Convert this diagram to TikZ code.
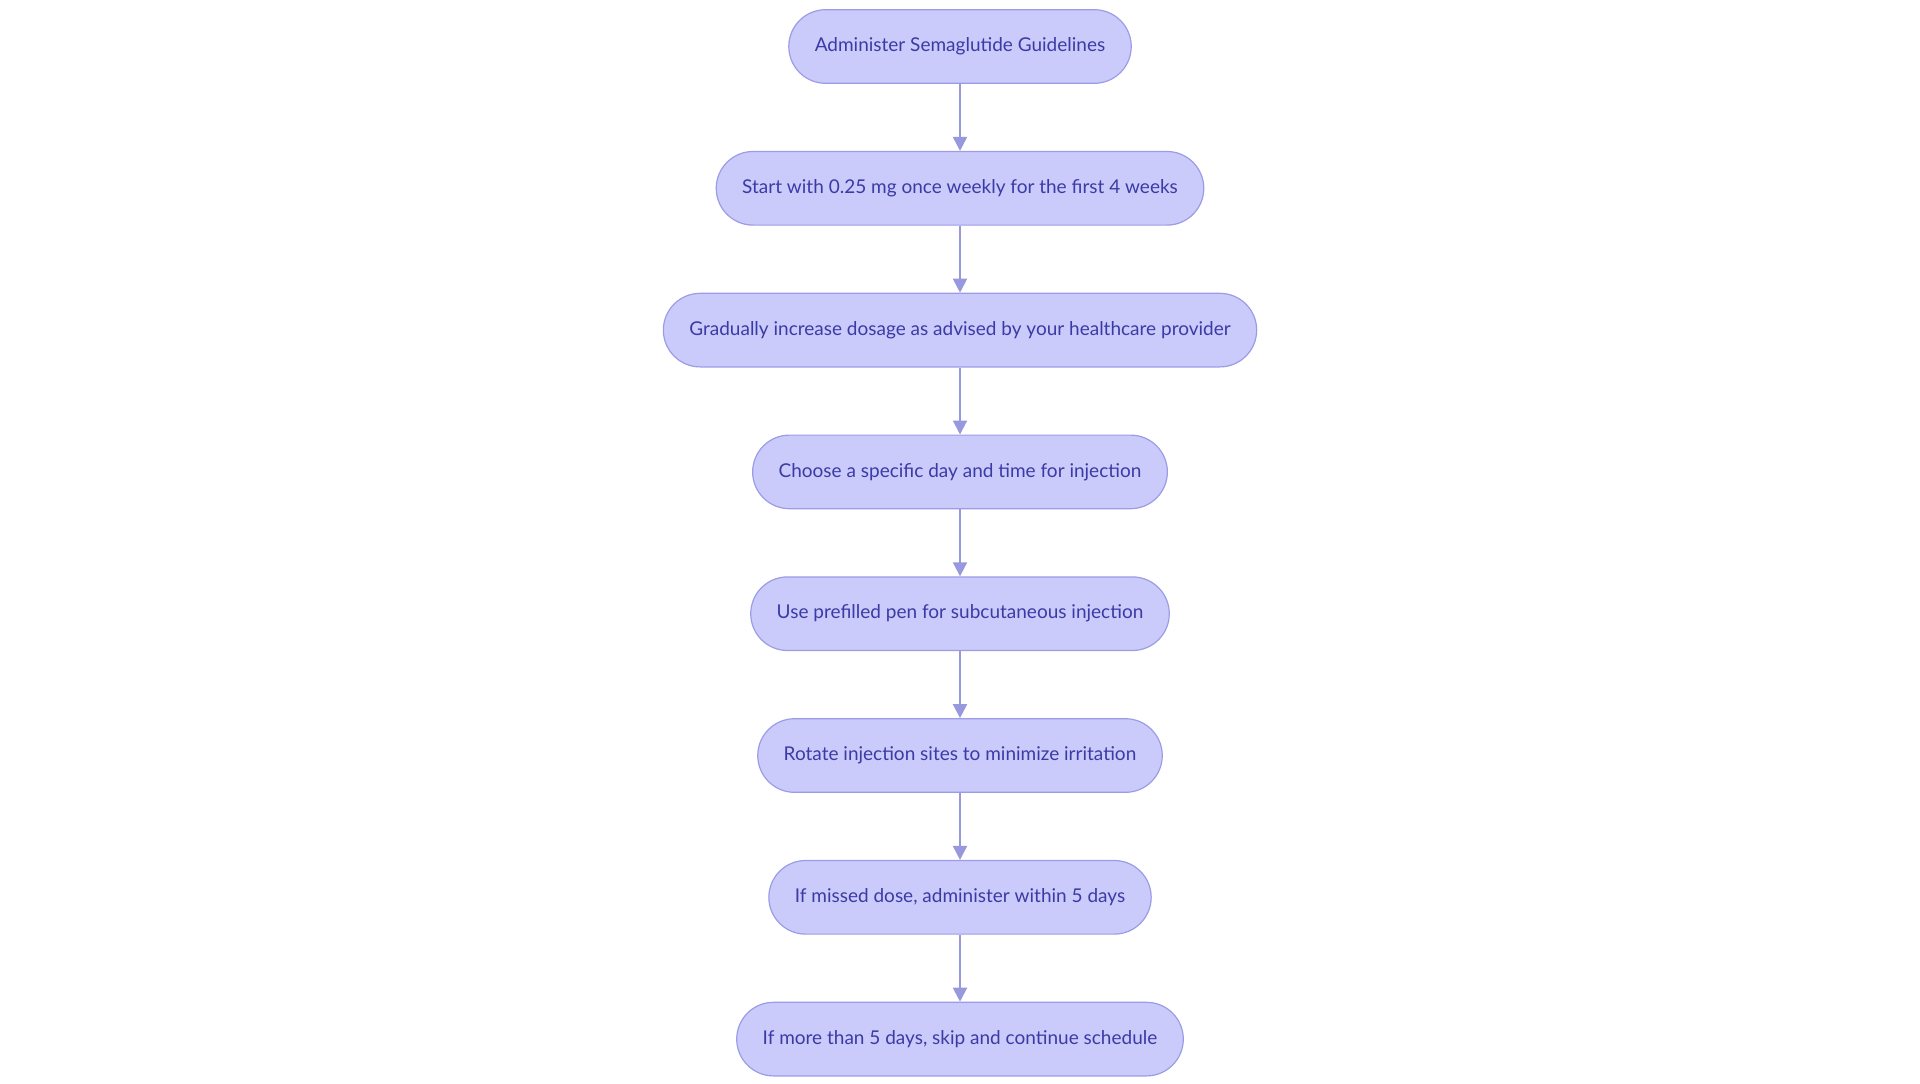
\documentclass[tikz,border=0pt]{standalone}
\usepackage{fontspec}
\setmainfont{Lato}
\usetikzlibrary{positioning}
\usetikzlibrary{arrows.meta}
\definecolor{stepfill}{HTML}{CACAFB}
\definecolor{stepline}{HTML}{9C9CE6}
\definecolor{steptext}{HTML}{3B3BA6}
\definecolor{flowline}{HTML}{9898DE}
\tikzset{>={Triangle[length=7pt,width=7pt]}}
\tikzset{stepbox/.style={draw=stepline,fill=stepfill,text=steptext,rounded corners=18.4pt,
  minimum height=36.8pt,inner xsep=13pt,font=\fontsize{9.5}{11}\selectfont,line width=0.6pt}}
\tikzset{flow/.style={->,draw=flowline,line width=1pt}}

\begin{document}
\begin{tikzpicture}[x=0.5pt,y=-0.5pt,node distance=33.5pt]
\useasboundingbox (0,0) rectangle (1920,1083);

\node[stepbox] (admin) at (960,46.5) {Administer Semaglutide Guidelines};
\node[stepbox,below=of admin] (start) {Start with 0.25 mg once weekly for the first 4 weeks};
\node[stepbox,below=of start] (increase) {Gradually increase dosage as advised by your healthcare provider};
\node[stepbox,below=of increase] (choose) {Choose a specific day and time for injection};
\node[stepbox,below=of choose] (pen) {Use prefilled pen for subcutaneous injection};
\node[stepbox,below=of pen] (rotate) {Rotate injection sites to minimize irritation};
\node[stepbox,below=of rotate] (missed) {If missed dose, administer within 5 days};
\node[stepbox,below=of missed] (skip) {If more than 5 days, skip and continue schedule};

\draw[flow] (admin) -- (start);
\draw[flow] (start) -- (increase);
\draw[flow] (increase) -- (choose);
\draw[flow] (choose) -- (pen);
\draw[flow] (pen) -- (rotate);
\draw[flow] (rotate) -- (missed);
\draw[flow] (missed) -- (skip);

\end{tikzpicture}
\end{document}
